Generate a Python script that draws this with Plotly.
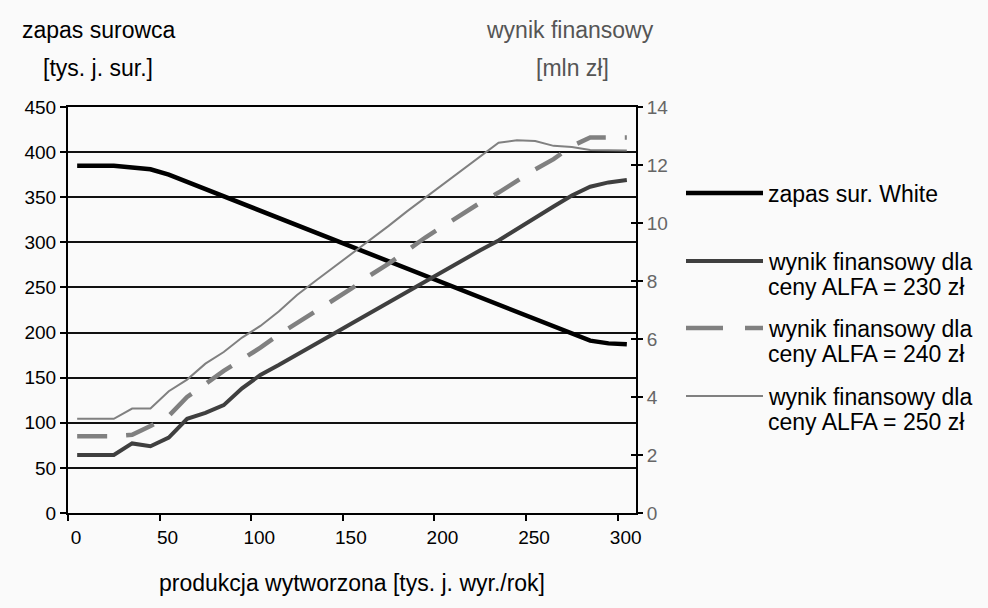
import plotly.graph_objects as go

# production volume [thousand units / year]
produkcja = [5, 15, 25, 35, 45, 55, 65, 75, 85, 95, 105, 115, 125, 135, 145, 155,
             165, 175, 185, 195, 205, 215, 225, 235, 245, 255, 265, 275, 285, 295, 305]

# raw-material stock "White" [thousand units]
zapas_white = [385, 385, 385, 383, 381, 375, 367, 359, 351, 343, 335, 327, 318, 310, 302, 294,
               286, 278, 270, 262, 254, 246, 238, 230, 222, 214, 206, 198, 191, 188, 187]

# financial result [mln zł] for ALFA prices 230 / 240 / 250 zł
wynik_230 = [2.0, 2.0, 2.0, 2.4, 2.3, 2.6, 3.25, 3.45, 3.72, 4.3, 4.76, 5.1, 5.45, 5.82, 6.18, 6.54,
             6.9, 7.26, 7.63, 7.99, 8.35, 8.72, 9.06, 9.4, 9.8, 10.2, 10.57, 10.95, 11.25, 11.4, 11.48]
wynik_240 = [2.65, 2.65, 2.65, 2.7, 3.0, 3.35, 4.0, 4.45, 4.9, 5.3, 5.7, 6.15, 6.55, 6.95, 7.35, 7.75,
             8.2, 8.6, 9.05, 9.5, 9.9, 10.3, 10.7, 11.05, 11.45, 11.85, 12.2, 12.65, 12.95, 12.95, 12.95]
wynik_250 = [3.25, 3.25, 3.25, 3.6, 3.6, 4.2, 4.6, 5.15, 5.55, 6.05, 6.45, 6.95, 7.52, 8.0, 8.47, 8.95,
             9.43, 9.9, 10.4, 10.88, 11.35, 11.83, 12.3, 12.77, 12.85, 12.83, 12.66, 12.62, 12.52, 12.5, 12.5]

x_ticks = [0, 50, 100, 150, 200, 250, 300]
left_ticks = list(range(0, 451, 50))
right_ticks = list(range(0, 15, 2))

legend_labels = [
    ["zapas sur. White"],
    ["wynik finansowy dla", "ceny ALFA = 230 zł"],
    ["wynik finansowy dla", "ceny ALFA = 240 zł"],
    ["wynik finansowy dla", "ceny ALFA = 250 zł"],
]

FONT = "Arial, 'Liberation Sans', sans-serif"
BG = "#fafafa"
W, H = 988, 608
L, R, T, B = 68, 636, 107, 513  # plot-area edges in pixels


def px(x):
    return (x - L) / (R - L)


def py(y):
    return (B - y) / (B - T)


series = [
    dict(y=zapas_white, axis="y", color="#000000", width=4.5, dash="solid"),
    dict(y=wynik_230, axis="y2", color="#3f3f3f", width=4, dash="solid"),
    dict(y=wynik_240, axis="y2", color="#808080", width=4.5, dash="30px,19px"),
    dict(y=wynik_250, axis="y2", color="#808080", width=2, dash="solid"),
]

fig = go.Figure()
for s, lab in zip(series, legend_labels):
    fig.add_trace(go.Scatter(
        x=produkcja, y=s["y"], yaxis=s["axis"], mode="lines",
        name=" ".join(lab), showlegend=False,
        line=dict(color=s["color"], width=s["width"], dash=s["dash"]),
    ))

# legend drawn by hand: line sample + text lines
legend_rows = [193, 261, 328, 396]
shapes = []
annotations = []
for s, lab, yrow in zip(series, legend_labels, legend_rows):
    dash = "37px,22px" if s["dash"] != "solid" else "solid"
    shapes.append(dict(type="line", xref="paper", yref="paper",
                       x0=px(686), x1=px(763), y0=py(yrow), y1=py(yrow),
                       line=dict(color=s["color"], width=s["width"], dash=dash)))
    for i, txt in enumerate(lab):
        annotations.append(dict(text=txt, xref="paper", yref="paper",
                                x=px(766), y=py(yrow + 1 + i * 24.5),
                                xanchor="left", yanchor="middle", showarrow=False,
                                font=dict(family=FONT, size=23, color="#000")))

# axis titles
titles = [
    ("zapas surowca", 20, 30, "left", "#000"),
    ("[tys. j. sur.]", 98, 68, "center", "#000"),
    ("wynik finansowy", 656, 30, "right", "#555"),
    ("[mln zł]", 572, 68, "center", "#555"),
    ("produkcja wytworzona [tys. j. wyr./rok]", 352, 583, "center", "#000"),
]
for txt, x, y, anchor, col in titles:
    annotations.append(dict(text=txt, xref="paper", yref="paper", x=px(x), y=py(y),
                            xanchor=anchor, yanchor="middle", showarrow=False,
                            font=dict(family=FONT, size=23, color=col)))

fig.update_layout(
    width=W, height=H,
    margin=dict(l=L, r=W - R, t=T, b=H - B, pad=0),
    paper_bgcolor=BG, plot_bgcolor=BG,
    font=dict(family=FONT, color="#000"),
    shapes=shapes, annotations=annotations,
    xaxis=dict(range=[0, 310], tickvals=x_ticks, ticks="outside", ticklen=6,
               tickwidth=1.5, tickcolor="#000", showline=True, linecolor="#000",
               linewidth=2, mirror=True, showgrid=False, zeroline=False,
               tickfont=dict(size=19, color="#000"), ticklabelshift=8,
               ticklabelstandoff=0),
    yaxis=dict(range=[0, 450], tickvals=left_ticks, ticks="outside", ticklen=6,
               tickwidth=1.5, tickcolor="#000", showline=True, linecolor="#000",
               linewidth=2, showgrid=True, gridcolor="#111", gridwidth=1.5,
               zeroline=False, tickfont=dict(size=19, color="#000"),
               ticklabelstandoff=0),
    yaxis2=dict(range=[0, 14], tickvals=right_ticks, overlaying="y", side="right",
                ticks="outside", ticklen=5, tickwidth=1.5, tickcolor="#000",
                showline=True, linecolor="#000", linewidth=2, showgrid=False,
                zeroline=False, tickfont=dict(size=19, color="#666"),
                ticklabelstandoff=0),
    yaxis3=dict(range=[0, 14], tickvals=right_ticks, overlaying="y", side="right",
                ticks="inside", ticklen=5, tickwidth=1.5, tickcolor="#000",
                showline=False, showgrid=False, zeroline=False,
                showticklabels=False),
)
# empty trace so the inner right-axis ticks get drawn
fig.add_trace(go.Scatter(x=[None], y=[None], yaxis="y3", showlegend=False,
                         hoverinfo="skip"))

fig.write_html("out.html")
